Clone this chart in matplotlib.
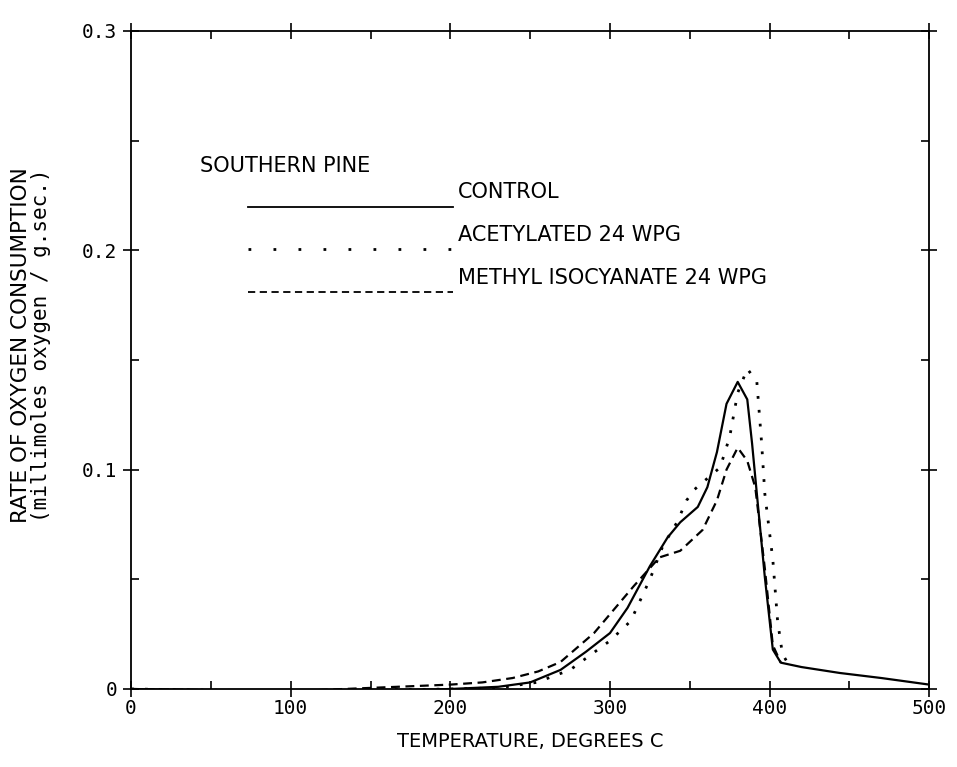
import numpy as np
import matplotlib.pyplot as plt
from matplotlib.ticker import MultipleLocator

# temperatures (C) and rates (millimoles O2 / g.sec)
t_control = [0, 40, 80, 120, 160, 200, 230, 250, 269, 285, 300, 311, 325, 336, 344,
             355, 361, 367, 373, 380, 386, 389, 392, 397, 402, 407, 420, 444, 470, 500]
v_control = [0, -0.0005, -0.001, -0.001, -0.0008, 0.0, 0.001, 0.003, 0.0087, 0.017,
             0.0255, 0.037, 0.056, 0.069, 0.076, 0.083, 0.092, 0.108, 0.130, 0.140,
             0.132, 0.112, 0.089, 0.051, 0.018, 0.012, 0.010, 0.0073, 0.005, 0.002]

t_acet = [0, 100, 200, 230, 254, 275, 300, 313, 325, 333, 342, 348, 353, 361, 369,
          375, 380, 386, 392, 395, 397, 402, 405, 408, 412]
v_acet = [0, -0.001, 0.0, 0.0005, 0.003, 0.0087, 0.022, 0.031, 0.050, 0.065, 0.076,
          0.086, 0.091, 0.096, 0.101, 0.115, 0.135, 0.146, 0.140, 0.112, 0.089,
          0.059, 0.031, 0.016, 0.011]

t_mic = [0, 100, 200, 220, 239, 255, 269, 290, 315, 331, 344, 358, 367, 373, 380,
         386, 391, 397, 402, 407]
v_mic = [0, -0.001, 0.002, 0.003, 0.005, 0.008, 0.0123, 0.0255, 0.047, 0.060, 0.063,
         0.0725, 0.086, 0.100, 0.110, 0.104, 0.092, 0.055, 0.020, 0.012]

series_names = ['CONTROL', 'ACETYLATED 24 WPG', 'METHYL ISOCYANATE 24 WPG']
x_ticks = [0, 100, 200, 300, 400, 500]
y_ticks = [0, 0.1, 0.2, 0.3]
y_ticklabels = ['0', '0.1', '0.2', '0.3']

fig = plt.figure(figsize=(9.57, 7.67), dpi=100)
ax = fig.add_axes([0.137, 0.1017, 0.834, 0.858])

tick_font = {'family': 'DejaVu Sans Mono', 'size': 14}
text_font = {'family': 'DejaVu Sans', 'size': 15}

ax.plot(t_control, v_control, color='black', lw=1.6, ls='-')
ax.plot(t_acet, v_acet, color='black', lw=2.0, ls=(0, (1, 4)))
ax.plot(t_mic, v_mic, color='black', lw=1.6, ls=(0, (4, 2.5)))

ax.set_xlim(0, 500)
ax.set_ylim(0, 0.3)
ax.set_xticks(x_ticks)
ax.set_yticks(y_ticks)
ax.set_xticklabels([str(v) for v in x_ticks], fontdict=tick_font)
ax.set_yticklabels(y_ticklabels, fontdict=tick_font)
ax.xaxis.set_minor_locator(MultipleLocator(50))
ax.yaxis.set_minor_locator(MultipleLocator(0.05))
ax.tick_params(which='major', direction='inout', length=12, width=1.2,
               top=True, right=True)
ax.tick_params(axis='x', which='major', pad=1)
ax.tick_params(axis='y', which='major', pad=4)
ax.tick_params(which='minor', direction='in', length=6, width=1.2,
               top=True, right=True)
for s in ax.spines.values():
    s.set_linewidth(1.3)

ax.set_xlabel('TEMPERATURE, DEGREES C', family='DejaVu Sans', size=14, labelpad=10)
fig.text(0.022, 0.55, 'RATE OF OXYGEN CONSUMPTION', rotation=90,
         ha='center', va='center', family='DejaVu Sans', size=15.5)
fig.text(0.043, 0.55, '(millimoles oxygen / g.sec.)', rotation=90,
         ha='center', va='center', family='DejaVu Sans Mono', size=15)

# legend block drawn in axes fraction
ax.text(0.086, 0.794, 'SOUTHERN PINE', transform=ax.transAxes, va='center', **text_font)
styles = [dict(lw=1.3, ls='-'), dict(lw=2.0, ls=(0, (1, 8))), dict(lw=1.3, ls=(0, (4, 2.5)))]
ys = [0.733, 0.668, 0.603]
for name, st, yy in zip(series_names, styles, ys):
    ax.plot([0.147, 0.403], [yy, yy], color='black', transform=ax.transAxes, **st)
    ax.text(0.410, yy + 0.022, name, transform=ax.transAxes, va='center', **text_font)

fig.savefig('out.png', dpi=100)
